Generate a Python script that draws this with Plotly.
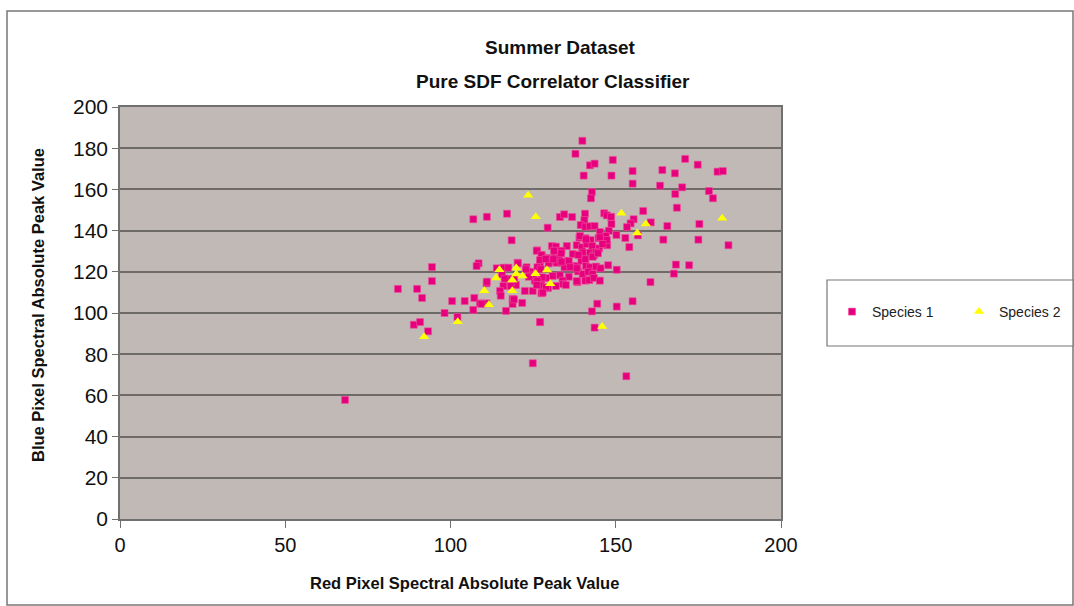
import plotly.graph_objects as go

# Species 1 (magenta squares)
s1_x = [68.1, 84.1, 89.9, 94.4, 94.4, 91.4, 100.5, 104.3, 107.2, 106.9, 98.2, 102.1, 88.9, 90.8, 93.2,
        116.8, 121.7, 127.1, 124.9, 153.2,
        106.9, 111.0, 117.1, 129.4, 118.5, 108.5, 107.9,
        139.9, 137.8, 142.2, 143.6, 149.1, 171.0, 174.8, 140.3, 148.7, 155.1, 155.1, 164.1, 167.9,
        180.8, 182.4, 163.4, 170.1, 168.0, 178.2, 179.4, 142.8, 142.5, 168.5, 158.3, 155.4, 154.5,
        153.4, 160.6, 165.6, 175.3, 164.4, 175.0, 184.1, 168.2, 172.2, 167.6, 160.5, 154.1, 152.9,
        150.2, 147.4, 147.7, 150.3, 155.1, 150.3, 144.4, 142.8, 143.6, 127.1, 122.5, 124.9, 127.5,
        133.1, 134.4, 136.8, 140.7, 146.5, 147.3, 148.6, 148.7, 140.5, 139.4, 140.8, 142.2, 143.6,
        145.2, 147.9, 147.0, 144.8, 139.0, 140.8, 142.4, 138.2, 139.8, 141.2, 142.9, 145.0, 130.7,
        131.9, 135.2, 126.2, 133.6, 137.0, 140.0, 142.2, 143.4, 144.0, 127.7, 129.1, 131.5, 132.9,
        129.9, 132.1, 127.1, 126.3, 127.3, 135.6, 136.7, 138.4, 139.6, 140.8, 143.0, 133.7, 134.5,
        141.0, 142.2, 144.0, 138.6, 140.0, 141.7, 143.0, 133.1, 135.8, 133.9, 130.9, 128.9, 125.5,
        127.5, 138.4, 140.8, 142.0, 143.4, 145.2, 131.9, 129.5, 134.1, 134.9, 123.0, 124.1, 125.1,
        123.7, 116.0, 117.5, 120.3, 122.8, 126.1, 127.5, 131.3, 133.5, 133.6, 135.8, 136.2, 138.2,
        127.8, 126.3, 127.4, 128.9, 126.1, 127.9, 119.8, 118.2, 116.0, 115.0, 115.2, 117.3, 115.6,
        116.4, 119.3, 118.8, 118.8, 110.9, 108.9, 110.9, 114.0, 127.1, 129.7, 128.8, 131.1, 138.2,
        138.7, 120.4, 111.0, 109.4, 119.2, 156.7, 139.2, 141.0, 145.2, 147.3, 146.0, 144.6, 144.0,
        145.4]
s1_y = [57.8, 111.7, 111.7, 122.3, 115.5, 107.3, 105.8, 105.8, 107.3, 101.5, 100.0, 98.1, 94.3, 95.6, 91.1,
        101.0, 104.9, 95.6, 75.6, 69.3,
        145.5, 146.7, 148.2, 141.4, 135.3, 124.1, 122.8,
        183.6, 177.3, 171.7, 172.5, 174.3, 174.8, 172.0, 166.7, 166.7, 168.9, 162.8, 169.4, 167.8,
        168.6, 168.9, 161.8, 161.0, 157.8, 159.2, 155.7, 158.7, 155.7, 151.1, 149.5, 145.5, 143.5,
        141.7, 144.0, 142.2, 143.2, 135.6, 135.6, 132.9, 123.5, 123.2, 119.1, 115.0, 132.0, 136.4,
        137.9, 132.9, 123.2, 121.0, 105.7, 103.1, 104.5, 100.8, 92.9, 95.6, 110.7, 110.7, 109.6,
        146.6, 147.9, 146.6, 148.2, 148.4, 147.4, 146.7, 143.2, 145.1, 142.7, 141.9, 142.1, 142.2,
        139.3, 139.9, 137.4, 136.3, 136.6, 136.3, 135.4, 132.9, 131.9, 133.5, 132.5, 131.4, 132.5,
        132.2, 132.5, 130.4, 130.2, 128.6, 129.3, 129.3, 128.0, 129.6, 127.7, 126.7, 127.7, 126.7,
        124.8, 124.4, 124.1, 122.2, 121.2, 125.4, 122.8, 122.8, 125.4, 126.1, 127.3, 124.4, 122.2,
        122.8, 122.2, 122.2, 120.2, 118.9, 120.0, 118.9, 118.3, 117.6, 115.7, 118.0, 117.0, 115.7,
        116.4, 115.0, 115.7, 116.0, 117.0, 115.7, 113.1, 112.1, 114.1, 113.6, 122.2, 120.0, 118.3,
        117.6, 122.0, 122.0, 124.4, 121.2, 130.2, 128.2, 130.2, 129.0, 124.9, 125.2, 122.2, 115.5,
        117.3, 115.7, 113.3, 112.5, 113.6, 109.9, 113.6, 113.1, 113.1, 110.7, 108.4, 116.5, 118.8,
        116.7, 116.7, 106.8, 104.4, 114.4, 104.7, 104.7, 121.7, 125.7, 124.1, 126.2, 126.1, 121.7,
        128.2, 124.1, 115.2, 104.4, 106.6, 137.7, 137.4, 135.8, 136.7, 135.4, 133.5, 129.0, 122.5,
        121.7]

# Species 2 (yellow triangles)
s2_x = [123.5, 125.8, 114.8, 113.8, 110.2, 111.6, 102.2, 92.0, 118.7, 118.7, 119.9, 119.9, 121.8,
        125.7, 129.2, 130.2, 151.7, 159.1, 156.5, 182.2, 145.9]
s2_y = [157.1, 146.7, 121.0, 117.0, 110.8, 104.0, 95.8, 88.5, 116.0, 110.8, 121.8, 118.9, 118.0,
        119.1, 120.9, 114.2, 148.4, 143.2, 138.8, 146.0, 93.5]

x_ticks = [0, 50, 100, 150, 200]
y_ticks = [0, 20, 40, 60, 80, 100, 120, 140, 160, 180, 200]

FONT = "Liberation Sans, Arial, sans-serif"
L, R, T, B = 120, 781, 107, 519
W, H = 1074, 606
PW, PH = R - L, B - T


def px(xp):
    return (xp - L) / PW


def py(yp):
    return (B - yp) / PH


fig = go.Figure()
fig.add_trace(go.Scatter(
    x=s1_x, y=s1_y, mode="markers", name="Species 1",
    marker=dict(symbol="square", size=7, color="#e6007e", line=dict(width=0.6, color="#f0509a")),
))
fig.add_trace(go.Scatter(
    x=s2_x, y=s2_y, mode="markers", name="Species 2",
    marker=dict(symbol="triangle-up", size=9, color="#ffff00", line=dict(width=0)),
))

fig.update_layout(
    width=W, height=H,
    margin=dict(l=L, r=W - R, t=T, b=H - B, autoexpand=False),
    paper_bgcolor="white",
    plot_bgcolor="#c0b9b6",
    font=dict(family=FONT, color="#111111"),
    showlegend=True,
    legend=dict(
        orientation="h", x=px(832), y=py(296), xanchor="left", yanchor="top",
        bgcolor="rgba(0,0,0,0)", borderwidth=0,
        font=dict(family=FONT, size=14, color="#222222"),
        entrywidth=82, entrywidthmode="pixels", itemsizing="trace",
    ),
    xaxis=dict(
        range=[0, 200], tickvals=x_ticks, ticktext=[str(v) for v in x_ticks],
        showgrid=False, zeroline=False, showline=True, linecolor="#707070", linewidth=1.5,
        mirror=True, ticks="outside", ticklen=7, tickcolor="#707070", tickwidth=1,
        tickfont=dict(family=FONT, size=20, color="#111111"),
    ),
    yaxis=dict(
        range=[0, 200], tickvals=y_ticks, ticktext=[str(v) for v in y_ticks],
        showgrid=True, gridcolor="#6e6a68", gridwidth=1.5, zeroline=False,
        showline=True, linecolor="#707070", linewidth=1.5, mirror=True,
        ticks="outside", ticklen=6, tickcolor="#707070", tickwidth=1,
        tickfont=dict(family=FONT, size=21, color="#111111"),
    ),
    shapes=[
        # outer chart border
        dict(type="rect", xref="paper", yref="paper",
             x0=px(7), x1=px(1073), y0=py(605), y1=py(11),
             line=dict(color="#777777", width=1.5), fillcolor="rgba(0,0,0,0)", layer="below"),
        # legend box
        dict(type="rect", xref="paper", yref="paper",
             x0=px(827), x1=px(1073), y0=py(346), y1=py(280),
             line=dict(color="#777777", width=1.2), fillcolor="white", layer="below"),
    ],
    annotations=[
        dict(text="<b>Summer Dataset</b>", xref="paper", yref="paper", x=px(560), y=py(48),
             showarrow=False, font=dict(family=FONT, size=19, color="#111111"), xanchor="center", yanchor="middle"),
        dict(text="<b>Pure SDF Correlator Classifier</b>", xref="paper", yref="paper", x=px(553), y=py(82),
             showarrow=False, font=dict(family=FONT, size=19, color="#111111"), xanchor="center", yanchor="middle"),
        dict(text="<b>Red Pixel Spectral Absolute Peak Value</b>", xref="paper", yref="paper", x=px(464), y=py(583),
             showarrow=False, font=dict(family=FONT, size=16.5, color="#111111"), xanchor="center", yanchor="middle"),
        dict(text="<b>Blue Pixel Spectral Absolute Peak Value</b>", xref="paper", yref="paper", x=px(38), y=py(305),
             showarrow=False, textangle=-90, font=dict(family=FONT, size=16.5, color="#111111"),
             xanchor="center", yanchor="middle"),
    ],
)

fig.write_html("out.html")
